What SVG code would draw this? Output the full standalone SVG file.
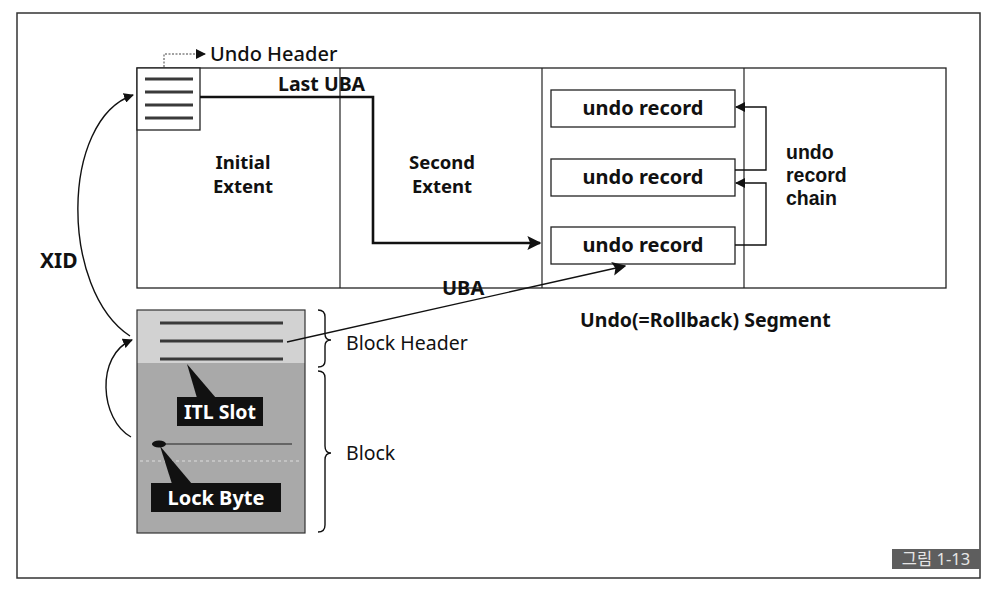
<svg xmlns="http://www.w3.org/2000/svg" width="994" height="590" viewBox="0 0 994 590">
<defs>
<style>
.t{font-family:"Noto Sans","Noto Sans CJK KR",sans-serif;fill:#111}
.b{font-weight:bold}
.box{fill:#fff;stroke:#222;stroke-width:1.3}
.ln{fill:none;stroke:#111;stroke-width:1.4}
.hl{stroke:#3a3a3a;stroke-width:3}
</style>
<marker id="ah" viewBox="0 0 10 10" refX="9" refY="5" markerWidth="10" markerHeight="10" markerUnits="userSpaceOnUse" orient="auto"><path d="M0,0 L10,5 L0,10 z" fill="#111"/></marker>
<marker id="ahb" viewBox="0 0 10 10" refX="9" refY="5" markerWidth="14" markerHeight="14" markerUnits="userSpaceOnUse" orient="auto"><path d="M0,0 L10,5 L0,10 L2,5 z" fill="#111"/></marker>
</defs>
<rect x="0" y="0" width="994" height="590" fill="#fff"/>
<rect x="17" y="13" width="963" height="565" fill="none" stroke="#333" stroke-width="1.5"/>

<g id="segment">
<rect x="137" y="68" width="809" height="220" class="box"/>
<line x1="340" y1="68" x2="340" y2="288" stroke="#222" stroke-width="1.2"/>
<line x1="542" y1="68" x2="542" y2="288" stroke="#222" stroke-width="1.2"/>
<line x1="744" y1="68" x2="744" y2="288" stroke="#222" stroke-width="1.2"/>
<text class="t b" font-size="18.5" text-anchor="middle"><tspan x="243" y="169">Initial</tspan><tspan x="243" y="193">Extent</tspan></text>
<text class="t b" font-size="18.5" text-anchor="middle"><tspan x="442" y="169">Second</tspan><tspan x="442" y="193">Extent</tspan></text>
<text x="580" y="327" class="t b" font-size="19.5">Undo(=Rollback) Segment</text>
</g>

<g id="undo-header">
<rect x="137" y="68" width="63" height="62" class="box"/>
<line x1="145" y1="79" x2="193" y2="79" class="hl"/>
<line x1="145" y1="92" x2="193" y2="92" class="hl"/>
<line x1="145" y1="105" x2="193" y2="105" class="hl"/>
<line x1="145" y1="118" x2="193" y2="118" class="hl"/>
<text x="210" y="61" class="t" font-size="20" font-weight="500">Undo Header</text>
</g>

<g id="undo-record-1"><rect x="551" y="90" width="184" height="37" class="box"/><text x="643" y="115" class="t b" font-size="20" text-anchor="middle">undo record</text></g>
<g id="undo-record-2"><rect x="551" y="159" width="184" height="37" class="box"/><text x="643" y="184" class="t b" font-size="20" text-anchor="middle">undo record</text></g>
<g id="undo-record-3"><rect x="551" y="227" width="184" height="37" class="box"/><text x="643" y="252" class="t b" font-size="20" text-anchor="middle">undo record</text></g>

<g id="chain-label">
<text font-family="'Liberation Sans',Arial,sans-serif" font-weight="bold" font-size="19.5" fill="#111"><tspan x="786" y="159">undo</tspan><tspan x="786" y="182">record</tspan><tspan x="786" y="205">chain</tspan></text>
</g>

<g id="block">
<rect x="137" y="310" width="168" height="53" fill="#d2d2d2"/>
<rect x="137" y="363" width="168" height="170" fill="#a9a9a9"/>
<rect x="137" y="310" width="168" height="223" fill="none" stroke="#333" stroke-width="1.2"/>
<line x1="160" y1="323" x2="283" y2="323" class="hl"/>
<line x1="160" y1="341" x2="283" y2="341" class="hl"/>
<line x1="160" y1="359" x2="283" y2="359" class="hl"/>
<line x1="152" y1="444" x2="292" y2="444" stroke="#222" stroke-width="1.2"/>
<line x1="140" y1="461" x2="302" y2="461" stroke="#ddd" stroke-width="1" stroke-dasharray="3,3"/>
<ellipse cx="159" cy="444" rx="7" ry="3.5" fill="#111"/>
</g>

<g id="itl-slot">
<polygon points="187,364 197,398 216,398" fill="#111"/>
<rect x="177" y="397" width="86" height="29" fill="#111"/>
<text x="220" y="419" class="t b" font-size="19.5" text-anchor="middle" style="fill:#fff">ITL Slot</text>
</g>

<g id="lock-byte">
<polygon points="160,446 172,484 192,484" fill="#111"/>
<rect x="151" y="483" width="130" height="29" fill="#111"/>
<text x="216" y="505" class="t b" font-size="20" text-anchor="middle" style="fill:#fff">Lock Byte</text>
</g>

<g id="braces">
<path d="M318,310 Q325,310 325,317 L325,334 Q325,340 331,340 Q325,340 325,346 L325,361 Q325,367 318,367" class="ln" stroke-width="1.1"/>
<path d="M318,371 Q325,371 325,378 L325,446 Q325,453 331,453 Q325,453 325,460 L325,525 Q325,532 318,532" class="ln" stroke-width="1.1"/>
<text x="346" y="350" class="t" font-size="19.5">Block Header</text>
<text x="346" y="460" class="t" font-size="19.5">Block</text>
</g>

<g id="connectors">
<path d="M164,67 L164,54 L205,54" fill="none" stroke="#444" stroke-width="1" stroke-dasharray="2,1.5" marker-end="url(#ah)"/>
<path d="M200,97 L373,97 L373,243 L540,243" fill="none" stroke="#111" stroke-width="2.6" marker-end="url(#ahb)"/>
<text x="278" y="91" class="t b" font-size="19.5">Last UBA</text>
<path d="M735,170 L766,170 L766,107 L736,107" class="ln" marker-end="url(#ah)"/>
<path d="M735,245 L766,245 L766,183 L736,183" class="ln" marker-end="url(#ah)"/>
<path d="M287,342 L625,266" class="ln" stroke-width="1.6" marker-end="url(#ahb)"/>
<text x="442" y="295" class="t b" font-size="20">UBA</text>
<path d="M130,336 C60,290 60,120 133,95" class="ln" stroke-width="1.2" marker-end="url(#ah)"/>
<path d="M131,437 C100,420 95,355 132,340" class="ln" stroke-width="1.2" marker-end="url(#ah)"/>
<text x="40" y="268" class="t b" font-size="21">XID</text>
</g>

<g id="badge">
<rect x="892" y="549" width="88" height="20" fill="#5e5e5e"/>
<text x="936" y="565" class="t" font-size="16.5" text-anchor="middle" style="fill:#e6e6e6">그림 1-13</text>
</g>
</svg>
